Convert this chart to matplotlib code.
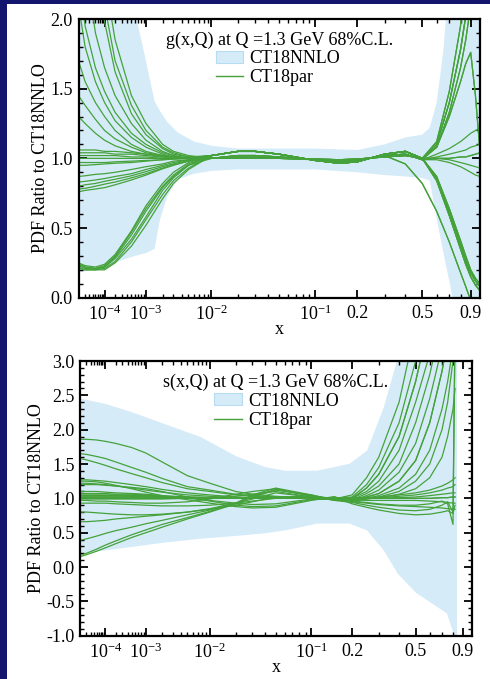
import matplotlib
matplotlib.use("Agg")
import matplotlib.pyplot as plt
import numpy as np
from matplotlib.patches import Patch, Rectangle
from matplotlib.lines import Line2D

plt.rcParams["font.family"] = ["Liberation Serif", "DejaVu Serif"]
plt.rcParams["mathtext.fontset"] = "custom"
plt.rcParams["mathtext.rm"] = "Liberation Serif"
plt.rcParams["mathtext.it"] = "Liberation Serif:italic"
plt.rcParams["axes.unicode_minus"] = False

GREEN = "#45a23a"
BAND = "#d5ebf8"
BAND_EDGE = "#b7dcf2"

# ---------------- g(x,Q) panel ----------------
g_band_x = [1e-5, 1e-4, 3e-4, 6e-4, 1e-3, 1.45e-3, 1.8e-3, 2.4e-3, 3.5e-3, 6e-3,
            1e-2, 2e-2, 5e-2, 0.1, 0.2, 0.3, 0.4, 0.5, 0.55, 0.6, 0.65, 0.7,
            0.75, 0.8, 1.0]
g_band_hi = [9, 5, 3, 2.05, 1.70, 1.41, 1.34, 1.26, 1.185, 1.12,
             1.09, 1.07, 1.07, 1.07, 1.06, 1.10, 1.15, 1.17, 1.22, 1.40, 1.76, 2.3,
             3, 5, 9]
g_band_lo = [0.18, 0.22, 0.27, 0.30, 0.32, 0.35, 0.56, 0.73, 0.85, 0.89,
             0.91, 0.92, 0.92, 0.92, 0.90, 0.88, 0.87, 0.86, 0.84, 0.57, 0.33, 0.12,
             -0.1, -1, -2]

# small-x part of each CT18par curve
g_x_small = [1e-5, 2e-5, 5e-5, 1e-4, 2e-4, 5e-4, 1e-3, 2e-3, 3e-3, 5e-3]
g_small = [
    [6.0, 4.5, 3.0, 2.3, 1.85, 1.45, 1.25, 1.10, 1.05, 1.02],
    [5.0, 3.8, 2.7, 2.1, 1.70, 1.38, 1.20, 1.08, 1.04, 1.01],
    [4.5, 3.4, 2.4, 1.98, 1.62, 1.32, 1.17, 1.07, 1.03, 1.01],
    [3.0, 2.4, 1.9, 1.65, 1.45, 1.25, 1.13, 1.05, 1.02, 1.00],
    [2.3, 1.95, 1.65, 1.48, 1.33, 1.18, 1.10, 1.04, 1.02, 1.00],
    [2.1, 1.8, 1.55, 1.40, 1.27, 1.15, 1.08, 1.03, 1.01, 1.00],
    [1.7, 1.55, 1.40, 1.30, 1.20, 1.10, 1.05, 1.02, 1.01, 1.00],
    [1.45, 1.38, 1.28, 1.20, 1.14, 1.08, 1.04, 1.02, 1.01, 1.00],
    [1.30, 1.25, 1.18, 1.13, 1.09, 1.05, 1.03, 1.01, 1.00, 1.00],
    [1.06, 1.06, 1.06, 1.05, 1.05, 1.04, 1.03, 1.02, 1.01, 1.00],
    [1.04, 1.04, 1.04, 1.04, 1.03, 1.03, 1.02, 1.01, 1.01, 1.00],
    [1.02, 1.02, 1.02, 1.02, 1.02, 1.01, 1.01, 1.00, 1.00, 1.00],
    [1.00, 1.00, 1.00, 1.00, 1.00, 1.00, 1.00, 1.00, 1.00, 1.00],
    [0.97, 0.97, 0.97, 0.97, 0.975, 0.98, 0.985, 0.99, 0.995, 1.00],
    [0.95, 0.95, 0.955, 0.96, 0.965, 0.97, 0.98, 0.99, 0.995, 1.00],
    [0.87, 0.875, 0.885, 0.89, 0.90, 0.92, 0.94, 0.96, 0.98, 0.99],
    [0.83, 0.835, 0.845, 0.855, 0.87, 0.89, 0.92, 0.95, 0.97, 0.99],
    [0.80, 0.81, 0.82, 0.835, 0.85, 0.875, 0.905, 0.94, 0.96, 0.985],
    [0.78, 0.785, 0.80, 0.815, 0.83, 0.86, 0.89, 0.93, 0.955, 0.98],
    [0.76, 0.77, 0.78, 0.79, 0.81, 0.845, 0.88, 0.925, 0.95, 0.98],
    [0.24, 0.22, 0.21, 0.23, 0.30, 0.47, 0.64, 0.80, 0.88, 0.96],
    [0.23, 0.21, 0.205, 0.22, 0.29, 0.45, 0.62, 0.79, 0.87, 0.95],
    [0.25, 0.23, 0.22, 0.24, 0.31, 0.48, 0.66, 0.82, 0.90, 0.97],
    [0.22, 0.20, 0.20, 0.21, 0.26, 0.40, 0.56, 0.74, 0.84, 0.93],
    [0.21, 0.20, 0.20, 0.20, 0.25, 0.37, 0.52, 0.71, 0.82, 0.92],
    [0.24, 0.22, 0.21, 0.22, 0.28, 0.42, 0.58, 0.77, 0.86, 0.95],
]

# mid-x shapes
g_x_mid = [1e-2, 2e-2, 3e-2, 5e-2, 0.1, 0.15, 0.2, 0.3, 0.4, 0.5]
g_mid = [
    [1.02, 1.05, 1.05, 1.03, 0.985, 0.965, 0.975, 1.03, 1.05, 1.00],
    [1.00, 1.02, 1.02, 1.01, 0.99, 0.975, 0.985, 1.02, 1.03, 0.99],
    [1.00, 1.00, 1.00, 1.00, 0.995, 0.99, 0.995, 1.01, 1.02, 1.00],
    [1.00, 1.01, 1.01, 1.00, 0.99, 0.98, 0.99, 1.02, 0.96, 0.82],
]

# large-x shapes
g_x_large = [0.6, 0.7, 0.8, 0.85, 0.9, 0.95, 1.0]
g_large = [
    [0.86, 0.62, 0.38, 0.27, 0.18, 0.12, 0.08],
    [0.84, 0.59, 0.35, 0.24, 0.15, 0.09, 0.05],
    [0.87, 0.64, 0.41, 0.30, 0.20, 0.14, 0.10],
    [0.62, 0.40, 0.18, 0.08, -0.02, -0.10, -0.15],
    [1.12, 1.48, 1.95, 2.35, 2.90, 3.60, 4.20],
    [1.10, 1.40, 1.78, 2.02, 2.40, 3.00, 3.50],
    [1.08, 1.33, 1.65, 1.85, 2.10, 2.50, 3.00],
    [1.08, 1.30, 1.55, 1.68, 1.76, 1.45, 1.05],
    [1.01, 1.03, 1.05, 1.06, 1.08, 1.09, 1.10],
    [1.00, 1.00, 1.01, 1.01, 1.02, 1.03, 1.04],
    [0.99, 0.97, 0.94, 0.92, 0.90, 0.88, 0.87],
    [1.00, 0.99, 0.97, 0.96, 0.95, 0.94, 0.93],
    [1.03, 1.07, 1.12, 1.15, 1.18, 1.20, 1.22],
]
g_mid_idx = [1, 0, 2, 0, 1, 0, 1, 0, 2, 0, 1, 2, 2, 1, 0, 3, 1, 0, 2, 0, 0, 0, 0, 0, 0, 3]
g_large_idx = [9, 0, 5, 1, 8, 4, 10, 0, 6, 2, 5, 11, 9, 12, 1, 3, 7, 0, 4, 2, 1, 5, 0, 7, 6, 3]

# ---------------- s(x,Q) panel ----------------
s_band_x = [1e-5, 1e-4, 5e-4, 2e-3, 7.5e-3, 0.02, 0.04, 0.06, 0.11, 0.19, 0.25,
            0.32, 0.39, 0.5, 0.62, 0.74, 0.8, 0.835]
s_band_hi = [2.46, 2.38, 2.26, 2.10, 1.90, 1.62, 1.46, 1.41, 1.41, 1.51, 1.70,
             2.33, 3.05, 4, 5, 6, 6, 6]
s_band_lo = [0.20, 0.25, 0.30, 0.36, 0.42, 0.46, 0.50, 0.54, 0.64, 0.64, 0.54,
             0.25, -0.09, -0.37, -0.53, -0.67, -0.96, -1.5]

s_x_small = [1e-5, 2e-5, 5e-5, 1e-4, 2e-4, 5e-4, 1e-3, 2e-3, 5e-3,
             1e-2, 2e-2, 3e-2, 5e-2, 0.1, 0.15]
s_small = [
    [1.86, 1.86, 1.85, 1.83, 1.80, 1.74, 1.66, 1.53, 1.33, 1.22, 1.10, 1.06, 1.03, 1.00, 0.98],
    [1.65, 1.64, 1.61, 1.58, 1.53, 1.45, 1.38, 1.29, 1.17, 1.12, 1.06, 1.04, 1.02, 1.00, 0.98],
    [1.58, 1.56, 1.52, 1.48, 1.43, 1.36, 1.30, 1.23, 1.14, 1.10, 1.05, 1.03, 1.02, 1.00, 0.99],
    [1.27, 1.27, 1.26, 1.25, 1.23, 1.20, 1.17, 1.13, 1.08, 1.05, 1.02, 1.01, 1.00, 1.00, 0.99],
    [1.22, 1.22, 1.21, 1.20, 1.18, 1.15, 1.12, 1.09, 1.05, 1.03, 1.01, 1.00, 1.00, 1.00, 0.99],
    [1.20, 1.20, 1.20, 1.19, 1.18, 1.16, 1.14, 1.10, 1.02, 0.96, 0.90, 0.88, 0.89, 0.98, 1.02],
    [1.10, 1.10, 1.10, 1.09, 1.08, 1.07, 1.06, 1.04, 1.02, 1.01, 1.00, 1.00, 1.00, 1.00, 1.00],
    [1.07, 1.07, 1.07, 1.07, 1.06, 1.06, 1.05, 1.03, 1.00, 0.97, 0.93, 0.91, 0.92, 0.99, 1.02],
    [1.05, 1.05, 1.05, 1.05, 1.05, 1.04, 1.04, 1.03, 1.02, 1.01, 1.01, 1.00, 1.00, 1.00, 1.00],
    [1.03, 1.03, 1.03, 1.03, 1.03, 1.03, 1.02, 1.02, 1.01, 1.01, 1.00, 1.00, 1.00, 1.00, 1.00],
    [1.01, 1.01, 1.01, 1.01, 1.01, 1.01, 1.01, 1.01, 1.00, 1.00, 1.00, 1.00, 1.00, 1.00, 1.00],
    [0.99, 0.99, 0.99, 0.99, 0.99, 0.99, 0.99, 0.99, 1.00, 1.00, 1.00, 1.00, 1.00, 1.00, 1.00],
    [0.93, 0.93, 0.93, 0.93, 0.92, 0.91, 0.90, 0.89, 0.89, 0.90, 0.93, 0.96, 1.00, 1.02, 1.00],
    [0.80, 0.80, 0.79, 0.78, 0.77, 0.76, 0.76, 0.77, 0.80, 0.84, 0.90, 0.95, 1.02, 1.03, 1.00],
    [0.66, 0.66, 0.67, 0.68, 0.70, 0.72, 0.74, 0.76, 0.80, 0.85, 0.93, 0.99, 1.08, 1.02, 0.99],
    [0.39, 0.41, 0.45, 0.49, 0.53, 0.58, 0.63, 0.68, 0.76, 0.83, 0.93, 1.02, 1.12, 1.05, 0.98],
    [0.17, 0.20, 0.26, 0.32, 0.38, 0.47, 0.54, 0.62, 0.72, 0.81, 0.93, 1.05, 1.15, 1.05, 0.97],
    [0.15, 0.18, 0.23, 0.28, 0.34, 0.43, 0.50, 0.58, 0.70, 0.80, 0.92, 1.03, 1.13, 1.04, 0.97],
    [1.25, 1.25, 1.24, 1.22, 1.19, 1.14, 1.09, 1.04, 0.98, 0.93, 0.88, 0.86, 0.87, 0.97, 1.02],
    [0.97, 0.97, 0.96, 0.96, 0.95, 0.94, 0.93, 0.93, 0.95, 0.99, 1.06, 1.10, 1.14, 1.03, 0.99],
    [1.04, 1.04, 1.04, 1.04, 1.04, 1.03, 1.03, 1.02, 1.01, 1.01, 1.03, 1.06, 1.10, 1.02, 0.99],
    [1.00, 1.00, 1.00, 1.00, 1.00, 1.00, 1.00, 1.00, 1.00, 1.00, 1.00, 1.00, 1.00, 1.00, 1.00],
]

s_x_large = [0.2, 0.25, 0.3, 0.4, 0.5, 0.6, 0.7, 0.75, 0.8, 0.82]
s_large = [
    [1.05, 1.30, 1.60, 2.40, 3.50, 5.0, 6.0, 6.0, 6.0, 6.0],
    [1.02, 1.20, 1.45, 2.10, 3.00, 4.2, 5.5, 6.0, 6.0, 6.0],
    [1.00, 1.15, 1.35, 1.90, 2.70, 3.6, 4.8, 5.5, 6.0, 6.0],
    [1.00, 1.10, 1.25, 1.70, 2.40, 3.1, 4.0, 4.6, 5.2, 5.5],
    [0.98, 1.07, 1.18, 1.50, 2.10, 2.8, 3.6, 4.1, 4.6, 5.0],
    [0.97, 1.04, 1.12, 1.38, 1.80, 2.45, 3.2, 3.6, 4.1, 4.4],
    [0.97, 1.02, 1.07, 1.25, 1.55, 2.10, 2.85, 3.3, 3.8, 4.0],
    [0.96, 1.00, 1.04, 1.15, 1.35, 1.70, 2.30, 2.70, 3.2, 3.5],
    [0.96, 0.99, 1.02, 1.10, 1.25, 1.50, 2.00, 2.40, 3.0, 3.3],
    [0.97, 0.99, 1.01, 1.06, 1.14, 1.30, 1.60, 1.90, 2.30, 2.6],
    [1.00, 1.01, 1.02, 1.05, 1.08, 1.12, 1.18, 1.22, 1.27, 1.30],
    [1.00, 1.00, 1.01, 1.03, 1.05, 1.08, 1.12, 1.15, 1.17, 1.20],
    [1.00, 1.00, 1.00, 1.01, 1.02, 1.04, 1.06, 1.07, 1.08, 1.08],
    [1.00, 1.00, 1.00, 1.00, 1.00, 1.00, 1.01, 1.01, 1.02, 1.02],
    [0.98, 0.97, 0.97, 0.97, 0.97, 0.96, 0.95, 0.94, 0.93, 0.93],
    [0.95, 0.93, 0.91, 0.89, 0.88, 0.87, 0.86, 0.85, 0.84, 0.84],
    [0.92, 0.87, 0.83, 0.78, 0.76, 0.77, 0.80, 0.82, 0.78, 0.90],
    [0.94, 0.90, 0.87, 0.83, 0.82, 0.84, 0.90, 0.95, 0.80, 3.50],
    [0.96, 0.94, 0.92, 0.90, 0.90, 0.92, 0.96, 0.92, 0.62, 3.50],
]
s_large_idx = [12, 2, 10, 5, 0, 16, 7, 15, 3, 13, 8, 14, 1, 6, 11, 4, 9, 17, 18, 2, 6, 13]

x_major = [1e-4, 1e-3, 1e-2, 0.1, 0.2, 0.5, 0.9]
x_major_labels = [r"$10^{-4}$", r"$10^{-3}$", r"$10^{-2}$", r"$10^{-1}$", "0.2", "0.5", "0.9"]
x_minor = ([n * 10.0 ** k for k in range(-5, -1) for n in range(2, 10)]
           + [0.3, 0.4, 0.6, 0.7, 0.8])


def fwd(x):
    return np.power(np.clip(x, 1e-12, None), 0.2)


def inv(u):
    return np.power(np.clip(u, 0, None), 5.0)


def style_axes(ax, ylim, ystep):
    ax.set_xscale("function", functions=(fwd, inv))
    ax.set_xlim(1e-5, 1.0)
    ax.set_ylim(*ylim)
    ax.set_xticks(x_major)
    ax.set_xticklabels(x_major_labels)
    ax.set_xticks(x_minor, minor=True)
    ax.set_yticks(np.arange(ylim[0], ylim[1] + 1e-9, ystep))
    ax.set_yticks(np.arange(ylim[0], ylim[1] + 1e-9, 0.1), minor=True)
    ax.yaxis.set_major_formatter(matplotlib.ticker.FormatStrFormatter("%.1f"))
    ax.tick_params(which="both", direction="in", top=True, right=True,
                   labelsize=13, colors="black")
    ax.tick_params(which="major", length=6, width=1.3)
    ax.tick_params(which="minor", length=3, width=1.0)
    ax.tick_params(axis="x", pad=5)
    ax.tick_params(axis="y", pad=4)
    for sp in ax.spines.values():
        sp.set_linewidth(1.6)
    ax.set_xlabel("x", fontsize=13, labelpad=-2)
    ax.set_ylabel("PDF Ratio to CT18NNLO", fontsize=13, labelpad=1)


def add_legend(ax, title, title_y, leg_top):
    ax.text(0.5, title_y, title, transform=ax.transAxes, ha="center", va="center",
            fontsize=13)
    handles = [Patch(facecolor=BAND, edgecolor=BAND_EDGE, linewidth=0.8),
               Line2D([], [], color=GREEN, lw=1.0)]
    ax.legend(handles, ["CT18NNLO", "CT18par"], loc="upper left",
              bbox_to_anchor=(0.343, leg_top), frameon=False, fontsize=13,
              handlelength=1.5, handleheight=0.6, handletextpad=0.35,
              labelspacing=0.12, borderaxespad=0, borderpad=0)


fig = plt.figure(figsize=(4.9, 6.79), dpi=100)
fig.patch.set_facecolor("#12166e")
fig.patches.append(Rectangle((7 / 490, 0), 1, 675 / 679, transform=fig.transFigure,
                             facecolor="white", edgecolor="none", zorder=-10))

# top panel
ax1 = fig.add_axes([78.5 / 490, 1 - 297.7 / 679, 401.5 / 490, 278.7 / 679])
ax1.fill_between(g_band_x, g_band_lo, g_band_hi, color=BAND, lw=0, zorder=1)
for i, left in enumerate(g_small):
    xs = g_x_small + g_x_mid + g_x_large
    ys = left + g_mid[g_mid_idx[i]] + g_large[g_large_idx[i]]
    ax1.plot(xs, ys, color=GREEN, lw=0.9, zorder=2)
style_axes(ax1, (0.0, 2.0), 0.5)
add_legend(ax1, "g(x,Q) at Q =1.3 GeV 68%C.L.", 0.925, 0.888)

# bottom panel
ax2 = fig.add_axes([80 / 490, 1 - 635.7 / 679, 392 / 490, 274.7 / 679])
ax2.fill_between(s_band_x, s_band_lo, s_band_hi, color=BAND, lw=0, zorder=1)
for i, left in enumerate(s_small):
    xs = s_x_small + s_x_large
    ys = left + s_large[s_large_idx[i]]
    ax2.plot(xs, ys, color=GREEN, lw=0.9, zorder=2)
style_axes(ax2, (-1.0, 3.0), 0.5)
add_legend(ax2, "s(x,Q) at Q =1.3 GeV 68%C.L.", 0.921, 0.885)

fig.savefig("out.png", dpi=100, facecolor=fig.get_facecolor())
